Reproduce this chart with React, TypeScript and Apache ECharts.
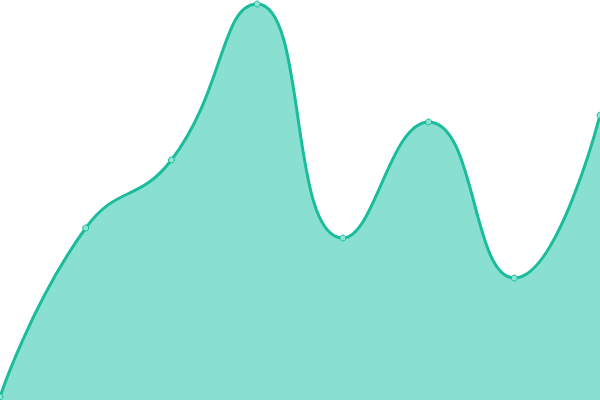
import React, { useEffect, useRef } from "react";
import * as echarts from "echarts";

const categories = ["1", "2", "3", "4", "5", "6", "7", "8"];
const values = [0.8, 43, 60, 99, 40.5, 69.5, 30.5, 71.2];

export default function App() {
  const ref = useRef<HTMLDivElement>(null);
  useEffect(() => {
    document.body.style.margin = "0";
    const chart = echarts.init(ref.current!, undefined, { renderer: "svg" });
    chart.setOption({
      animation: false,
      grid: { left: 0, right: 0, top: 0, bottom: 0 },
      xAxis: { type: "category", data: categories, boundaryGap: false, show: false },
      yAxis: { type: "value", min: 0, max: 100, show: false },
      series: [
        {
          type: "line",
          data: values,
          smooth: true,
          symbol: "circle",
          symbolSize: 6,
          itemStyle: { color: "#8fe3d3", borderColor: "#1abc9c", borderWidth: 1 },
          lineStyle: { color: "#1abc9c", width: 3 },
          areaStyle: { color: "#89e0d0", opacity: 1 },
        },
      ],
    });
    return () => chart.dispose();
  }, []);
  return <div ref={ref} style={{ position: "fixed", left: 0, top: 0, width: 600, height: 400 }} />;
}
